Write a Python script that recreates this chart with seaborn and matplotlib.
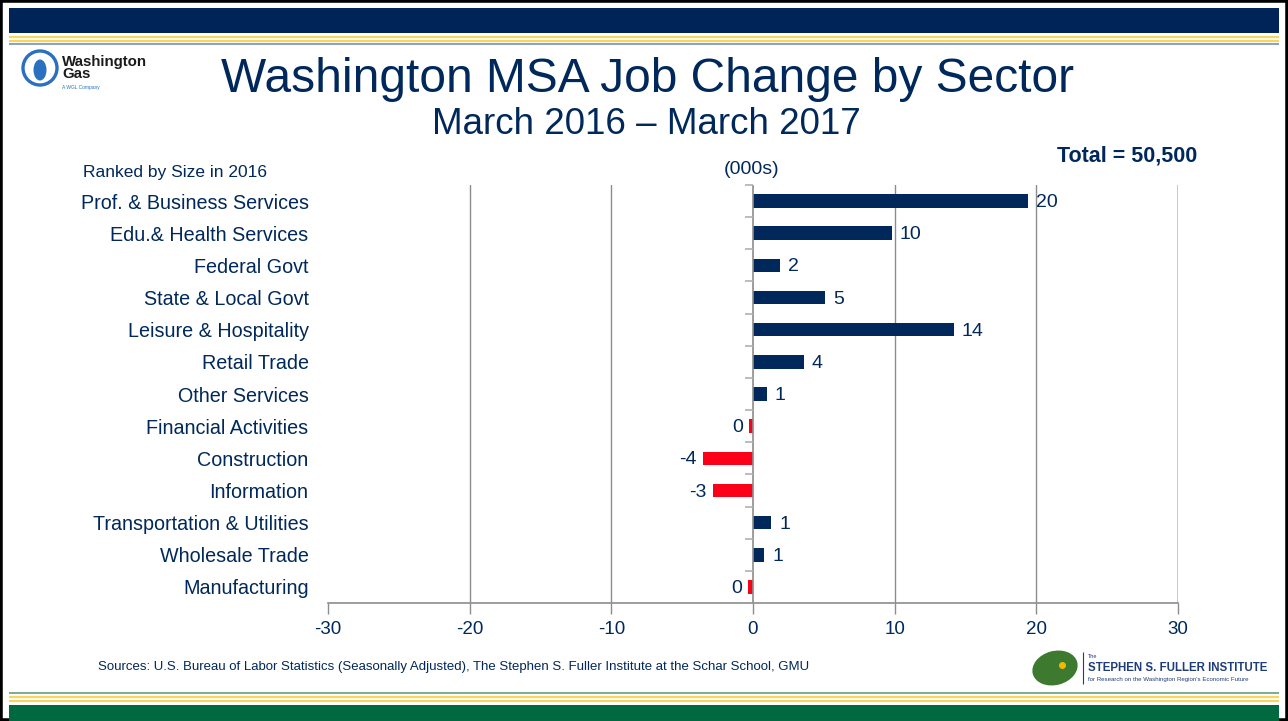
import numpy as np
import pandas as pd
import matplotlib.pyplot as plt
import matplotlib.patches as mpatches
import seaborn as sns

# ---- data (thousands of jobs, Mar 2016 - Mar 2017) ----
sectors = [
    "Prof. & Business Services", "Edu.& Health Services", "Federal Govt",
    "State & Local Govt", "Leisure & Hospitality", "Retail Trade",
    "Other Services", "Financial Activities", "Construction", "Information",
    "Transportation & Utilities", "Wholesale Trade", "Manufacturing",
]
change = [19.4, 9.8, 1.9, 5.1, 14.2, 3.6, 1.0, -0.25, -3.5, -2.8, 1.3, 0.8, -0.35]
labels = ["20", "10", "2", "5", "14", "4", "1", "0", "-4", "-3", "1", "1", "0"]
x_ticks = [-30, -20, -10, 0, 10, 20, 30]

NAVY = "#00285a"
RED = "#fb0019"
GRID = "#8c8c8c"
SANS = ["Liberation Sans", "DejaVu Sans"]

sns.set_theme(style="white")
plt.rcParams["font.family"] = SANS

df = pd.DataFrame({"sector": sectors, "change": change})
df["sign"] = np.where(df["change"] >= 0, "pos", "neg")

fig = plt.figure(figsize=(12.88, 7.21), dpi=100)
W, H = 1288, 721

# ---- slide decoration ----
bg = fig.add_axes([0, 0, 1, 1])
bg.set_xlim(0, W)
bg.set_ylim(H, 0)
bg.axis("off")
bg.add_patch(mpatches.Rectangle((0, 0), W, H, fc="white", ec="black", lw=4))
bg.add_patch(mpatches.Rectangle((9, 8), W - 18, 25, fc="#002458", ec="none"))
bg.hlines([37, 41], 9, W - 9, color="#f7d55e", lw=1.6)
bg.hlines([44], 9, W - 9, color="#8aa0bd", lw=1.4)
bg.hlines([693], 9, W - 9, color="#7fa98e", lw=1.4)
bg.hlines([697, 701], 9, W - 9, color="#f7d55e", lw=1.6)
bg.add_patch(mpatches.Rectangle((9, 705), W - 18, 16, fc="#006940", ec="none"))

# Washington Gas logo (approximation)
bg.add_patch(mpatches.Circle((40, 68), 17, fc="white", ec="#2b6fc0", lw=2.4))
bg.add_patch(mpatches.Ellipse((40, 70), 13, 21, fc="#2b6fc0", ec="none"))
bg.text(62, 68, "Washington\nGas", fontsize=10.8, fontweight="bold",
        color="#1a1a1a", va="center", ha="left", linespacing=0.85)
bg.text(62, 88, "A WGL Company", fontsize=3.5, color="#2b6fc0", va="center")

# Fuller Institute logo (approximation)
bg.add_patch(mpatches.Ellipse((1055, 668), 46, 34, angle=-15, fc="#3d7a2f", ec="none"))
bg.plot([1062], [665], "o", color="#f5b800", ms=4)
bg.vlines(1083, 652, 684, color="#1f3d7a", lw=0.8)
bg.text(1088, 656, "The", fontsize=4, color="#1f3d7a", va="center")
bg.text(1088, 668, "STEPHEN S. FULLER INSTITUTE", fontsize=8.3, fontweight="bold",
        color="#1f3d7a", va="center")
bg.text(1088, 680, "for Research on the Washington Region's Economic Future",
        fontsize=4.4, color="#1f3d7a", va="center")

# titles
bg.text(648, 79, "Washington MSA Job Change by Sector", fontsize=34.5,
        color=NAVY, ha="center", va="center")
bg.text(646, 124, "March 2016 \u2013 March 2017", fontsize=26.5,
        color=NAVY, ha="center", va="center")
bg.text(1127, 156, "Total = 50,500", fontsize=15.5, fontweight="bold",
        color=NAVY, ha="center", va="center")
bg.text(83, 172, "Ranked by Size in 2016", fontsize=12.5, color=NAVY,
        ha="left", va="center")
bg.text(752, 170, "(000s)", fontsize=14, color=NAVY, ha="center", va="center")
bg.text(98, 667, "Sources: U.S. Bureau of Labor Statistics (Seasonally Adjusted), "
        "The Stephen S. Fuller Institute at the Schar School, GMU",
        fontsize=9.5, color=NAVY, ha="left", va="center")

# ---- chart ----
ax = fig.add_axes([328 / W, 1 - 603 / H, 850 / W, 418 / H])
sns.barplot(data=df, x="change", y="sector", hue="sign",
            palette={"pos": NAVY, "neg": RED}, orient="h", width=0.42,
            dodge=False, legend=False, ax=ax, saturation=1, linewidth=0)

ax.set_xlim(-30, 30)
ax.set_ylim(len(sectors) - 0.5, -0.5)
ax.set_xticks(x_ticks)
ax.set_xticklabels([str(t) for t in x_ticks], fontsize=13.5, color=NAVY)
ax.tick_params(axis="x", length=8, color=GRID, width=1, pad=5, direction="out",
               bottom=True)
ax.tick_params(axis="y", length=0, pad=14, labelsize=14.2, labelcolor=NAVY)
ax.set_xlabel("")
ax.set_ylabel("")
for s in ["top", "left", "right"]:
    ax.spines[s].set_visible(False)
ax.spines["bottom"].set_color(GRID)
ax.spines["bottom"].set_linewidth(1.2)

for t in [-20, -10, 10, 20]:
    ax.axvline(t, color=GRID, lw=1, zorder=0)
ax.axvline(30, color="#c4c4c4", lw=2, zorder=0)
ax.axvline(0, color=GRID, lw=1.2, zorder=3)
# category separators on the zero line
ax.hlines(np.arange(len(sectors)) - 0.5, -0.55, 0, color="#b0b0b0", lw=1.2,
          zorder=3, clip_on=False)

for i, (v, lab) in enumerate(zip(change, labels)):
    if v >= 0:
        ax.text(v + 0.55, i + 0.05, lab, ha="left", va="center", fontsize=14, color=NAVY)
    else:
        ax.text(v - 0.45, i + 0.05, lab, ha="right", va="center", fontsize=14, color=NAVY)

fig.savefig("out.png", dpi=100)
